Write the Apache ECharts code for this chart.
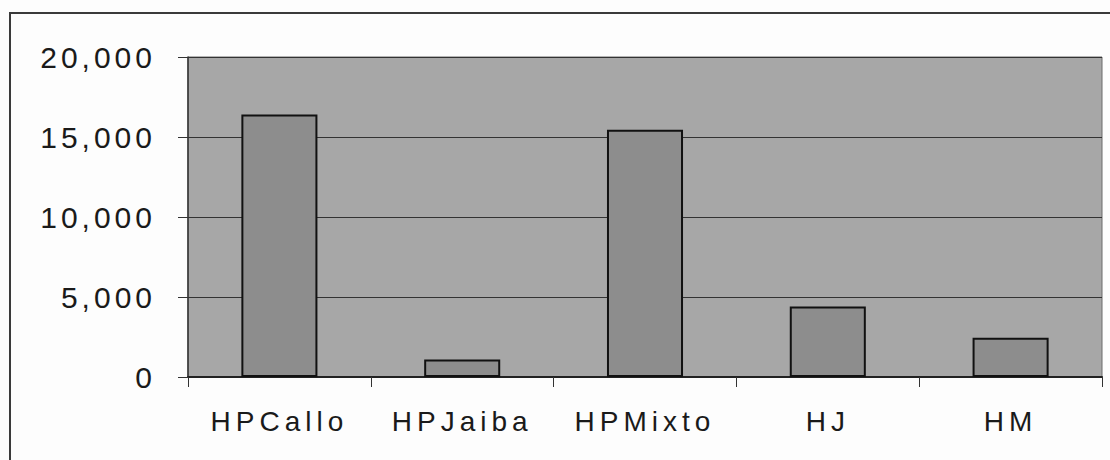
<!DOCTYPE html>
<html>
<head>
<meta charset="utf-8">
<script src="https://cdn.jsdelivr.net/npm/echarts@6/dist/echarts.min.js"></script>
<style>
  html, body { margin: 0; padding: 0; background: #fdfdfd; }
  #chart { width: 1110px; height: 460px; }
  #chart text[text-anchor="end"] { letter-spacing: 4px; }
  #chart text[text-anchor="middle"] { letter-spacing: 5px; }
</style>
</head>
<body>
<div id="chart"></div>
<script>
const categories = ['HPCallo', 'HPJaiba', 'HPMixto', 'HJ', 'HM'];
const values = [16400, 1100, 15450, 4400, 2450];
const yMin = 0, yMax = 20000, yInterval = 5000;

const chart = echarts.init(document.getElementById('chart'), null, { renderer: 'svg' });
chart.setOption({
  animation: false,
  backgroundColor: '#fdfdfd',
  grid: {
    left: 188, top: 57, right: 8, bottom: 83,
    show: true, backgroundColor: '#a7a7a7', borderColor: '#6a6a6a', borderWidth: 1
  },
  graphic: [{
    type: 'rect', silent: true, z: -1,
    shape: { x: 10, y: 13, width: 1130, height: 470 },
    style: { fill: 'none', stroke: '#3a3a3a', lineWidth: 2 }
  }],
  xAxis: {
    type: 'category',
    data: categories,
    axisLine: { show: true, lineStyle: { color: '#222', width: 2 } },
    axisTick: { show: true, length: 10, alignWithLabel: false, lineStyle: { color: '#333', width: 1 } },
    axisLabel: { margin: 30, color: '#1a1a1a', fontSize: 28, fontFamily: 'Liberation Sans, Arial, sans-serif' },
    splitLine: { show: false }
  },
  yAxis: {
    type: 'value',
    min: yMin, max: yMax, interval: yInterval,
    axisLine: { show: true, lineStyle: { color: '#333', width: 1.5 } },
    axisTick: { show: true, length: 10, lineStyle: { color: '#333', width: 1 } },
    axisLabel: {
      margin: 32, color: '#1a1a1a', fontSize: 30, fontFamily: 'Liberation Sans, Arial, sans-serif',
      formatter: v => v.toLocaleString('en-US')
    },
    splitLine: { show: true, lineStyle: { color: '#333', width: 1.2 } }
  },
  series: [{
    type: 'bar',
    data: values,
    barWidth: '41.6%',
    itemStyle: { color: '#8d8d8d', borderColor: '#111', borderWidth: 2 }
  }]
});
</script>
</body>
</html>
